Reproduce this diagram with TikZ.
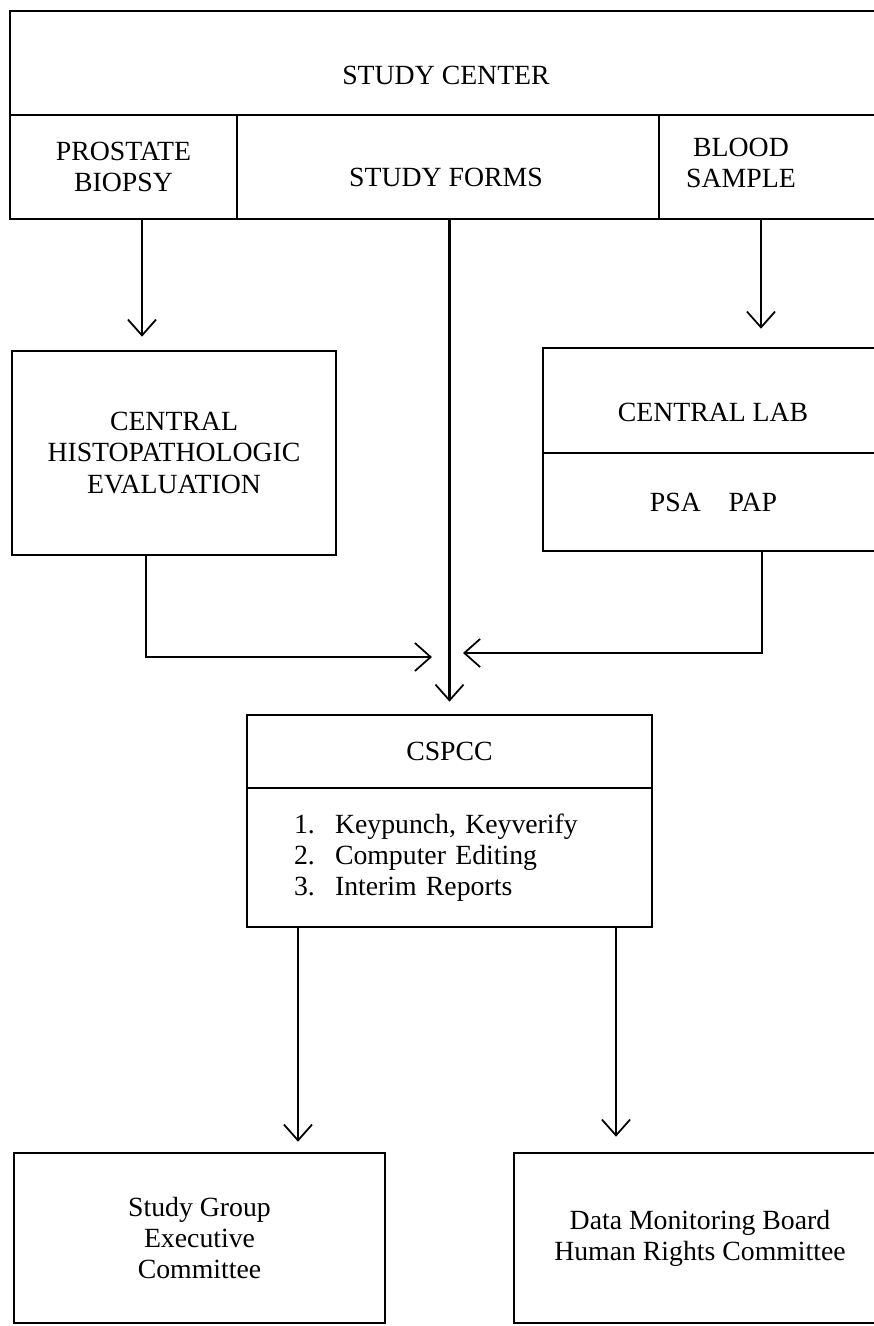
\documentclass[tikz,border=0pt]{standalone}
\usepackage{fontspec}
\setmainfont{Liberation Serif}
\usetikzlibrary{arrows.meta,positioning,calc}

\begin{document}
\begin{tikzpicture}[x=0.02cm, y=-0.02cm,
    cell/.style 2 args={draw, line width=1.5pt, minimum width=#1*0.02cm,
        minimum height=#2*0.02cm, inner sep=0pt, align=center},
    lbl/.style={align=center, inner sep=0pt},
    flow/.style={line width=1.2pt, -{Straight Barb[length=9pt,width=16pt,line width=1pt]}},
    font=\fontsize{15.8}{17.8}\selectfont]

    \useasboundingbox (0,0) rectangle (874,1326);

    % Study center with its three sections
    \node[cell={874}{104}] (studycenter) at (447,63) {};
    \node[lbl] (studylbl) at (446,75) {STUDY CENTER};
    \node[cell={227}{104}] (biopsy) at (123.5,167) {PROSTATE\\BIOPSY};
    \node[cell={422}{104}] (forms) at (448,167) {};
    \node[lbl] (formslbl) at (446,177) {STUDY FORMS};
    \node[cell={225}{104}] (blood) at (771.5,167) {};
    \node[lbl] (bloodlbl) at (741,163) {BLOOD\\SAMPLE};

    % Central evaluation and central lab
    \node[cell={324}{204}] (histo) at (174,453) {CENTRAL\\HISTOPATHOLOGIC\\EVALUATION};
    \node[cell={341}{105}] (lab) at (713.5,400.5) {};
    \node[lbl] (lablbl) at (713,412) {CENTRAL LAB};
    \node[cell={341}{98}] (labtests) at (713.5,502) {PSA\quad PAP};

    % Coordinating center
    \node[cell={405}{73}] (cspcc) at (449.5,751.5) {CSPCC};
    \node[cell={405}{139}, text width=6.22cm, inner xsep=0.94cm, align=left] (tasks) at (449.5,857.5)
        {\makebox[0.82cm][l]{1.}Keypunch, Keyverify\\
         \makebox[0.82cm][l]{2.}Computer Editing\\
         \makebox[0.82cm][l]{3.}Interim Reports};

    % Committees
    \node[cell={371}{170}] (execcomm) at (199.5,1238) {Study Group\\Executive\\Committee};
    \node[cell={372}{170}] (monitor) at (700,1238) {Data Monitoring Board\\Human Rights Committee};

    % connector columns and elbows
    \coordinate (colbiopsy) at (142,0);
    \coordinate (colblood) at (761,0);
    \coordinate (colexec) at (298,0);
    \coordinate (colmonitor) at (616,0);
    \coordinate (elbowL) at (146,657);
    \coordinate (joinL) at (432,657);
    \coordinate (elbowR) at (762,653);
    \coordinate (joinR) at (463,653);

    \draw[flow, shorten >=0.26cm] (biopsy.south -| colbiopsy) -- (histo.north -| colbiopsy);
    \draw[flow, shorten >=0.36cm] (blood.south -| colblood) -- (lab.north -| colblood);
    \draw[flow, shorten >=0.24cm] (forms.south -| cspcc.north) -- (cspcc.north);
    \draw[flow] (histo.south -| elbowL) -- (elbowL) -- (joinL);
    \draw[flow] (labtests.south -| elbowR) -- (elbowR) -- (joinR);
    \draw[flow, shorten >=0.2cm] (tasks.south -| colexec) -- (execcomm.north -| colexec);
    \draw[flow, shorten >=0.3cm] (tasks.south -| colmonitor) -- (monitor.north -| colmonitor);

\end{tikzpicture}
\end{document}
